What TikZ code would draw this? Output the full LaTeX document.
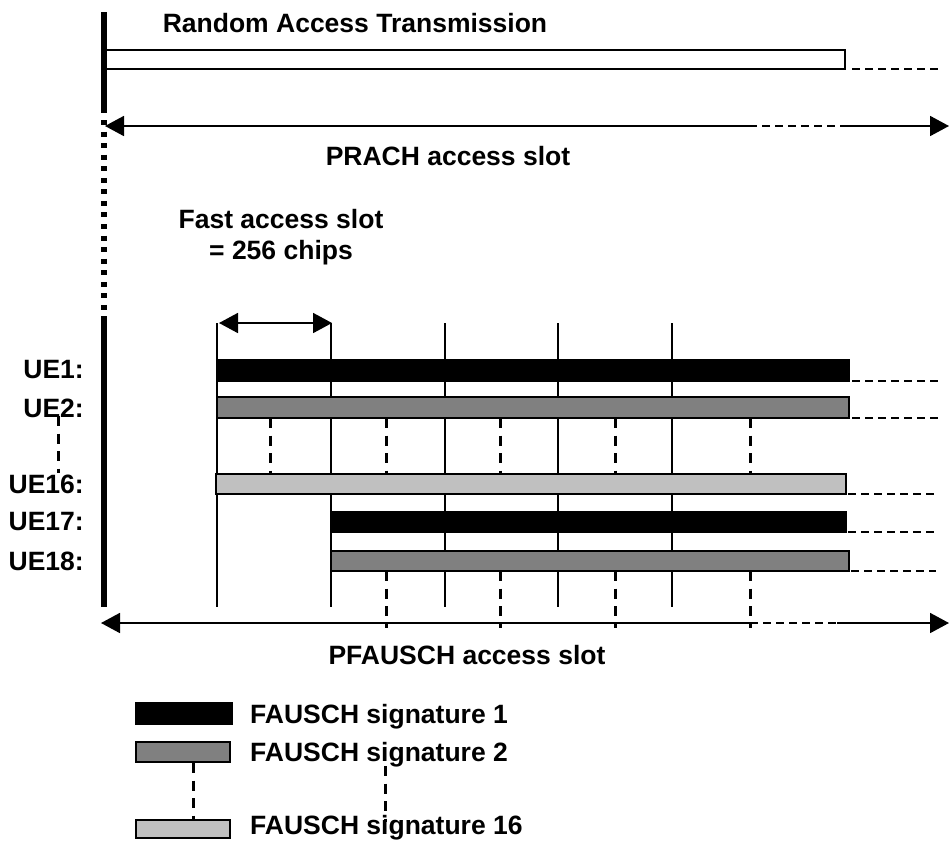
\documentclass[tikz,border=0pt]{standalone}
\usepackage{fontspec}
\setmainfont{Liberation Sans}
\usetikzlibrary{arrows.meta}
\begin{document}
\begin{tikzpicture}[x=1pt, y=-1pt, >={Triangle[length=19pt,width=20pt]}, line join=miter,
	lbl/.style={font=\fontsize{26.5}{31}\selectfont\bfseries, inner sep=0pt},
	thin/.style={line width=1.8pt},
	dsh/.style={line width=3pt, dash pattern=on 10pt off 7.5pt},
	trail/.style={line width=1.6pt, dash pattern=on 8pt off 5pt},
	bar/.style={draw, line width=1.5pt}]
			\definecolor{sigtwo}{RGB}{128,128,128}
			\definecolor{sigsixteen}{RGB}{192,192,192}
			\useasboundingbox (0,0) rectangle (949,841);
			\draw[line width=6pt] (104,12) -- (104,113);
			\draw[line width=6pt, dash pattern=on 5pt off 6.56pt] (104,120) -- (104,310);
			\draw[line width=6pt] (104,316) -- (104,607);
			\node[lbl, anchor=base] (rat) at (355,32) {Random Access Transmission};
			\draw[thin] (104,50) rectangle (845,69);
			\draw[trail] (852,69) -- (942,69);
			\coordinate (prachL) at (105,126);
			\coordinate (prachA) at (749,126);
			\coordinate (prachB) at (840,126);
			\coordinate (prachR) at (949,126);
			\draw[thin, <-] (prachL) -- (prachA);
			\draw[trail] (prachA) -- (prachB);
			\draw[thin, ->] (prachB) -- (prachR);
			\node[lbl, anchor=base] (prach) at (448,165) {PRACH access slot};
			\node[lbl, anchor=base, align=center] (fas) at (281,259) {Fast access slot\\= 256 chips};
			\foreach \x in {217,331,445,558,672}
				\draw[thin] (\x,323) -- (\x,607);
			\coordinate (fasL) at (219,323);
			\coordinate (fasR) at (332,323);
			\draw[thin, <->] (fasL) -- (fasR);
			\foreach \x in {270,386,500,615,750}
				\draw[dsh] (\x,418) -- (\x,474);
			\foreach \x in {386,500,615,750}
				\draw[dsh] (\x,571) -- (\x,628);
			\draw[bar, fill=black] (217,360) rectangle (849,381);
			\draw[bar, fill=sigtwo] (217,397) rectangle (849,418);
			\draw[bar, fill=sigsixteen] (216,474) rectangle (846,494);
			\draw[bar, fill=black] (331,512) rectangle (846,532);
			\draw[bar, fill=sigtwo] (331,551) rectangle (849,571);
			\draw[trail] (852,381) -- (941,381);
			\draw[trail] (852,418) -- (941,418);
			\draw[trail] (848,494) -- (934,494);
			\draw[trail] (848,532) -- (934,532);
			\draw[trail] (851,571) -- (936,571);
			\node[lbl, anchor=east] (ue1) at (84,370) {UE1:};
			\node[lbl, anchor=east] (ue2) at (84,408) {UE2:};
			\node[lbl, anchor=east] (ue16) at (84,484) {UE16:};
			\node[lbl, anchor=east] (ue17) at (84,522) {UE17:};
			\node[lbl, anchor=east] (ue18) at (84,561) {UE18:};
			\draw[dsh] (58,416) -- (58,473);
			\coordinate (pfL) at (101,623);
			\coordinate (pfA) at (750,623);
			\coordinate (pfB) at (837,623);
			\coordinate (pfR) at (949,623);
			\draw[thin, <-] (pfL) -- (pfA);
			\draw[trail] (pfA) -- (pfB);
			\draw[thin, ->] (pfB) -- (pfR);
			\node[lbl, anchor=base] (pfausch) at (467,664) {PFAUSCH access slot};
			\draw[bar, fill=black] (136,703) rectangle (232,724);
			\draw[bar, fill=sigtwo] (136,742) rectangle (230,762);
			\draw[bar, fill=sigsixteen] (136,820) rectangle (230,838);
			\draw[dsh] (193,763) -- (193,820);
			\draw[dsh] (385,766) -- (385,822);
			\node[lbl, anchor=base west] (sig1) at (250,723) {FAUSCH signature 1};
			\node[lbl, anchor=base west] (sig2) at (250,761) {FAUSCH signature 2};
			\node[lbl, anchor=base west] (sig16) at (250,834) {FAUSCH signature 16};
		\end{tikzpicture}
\end{document}
